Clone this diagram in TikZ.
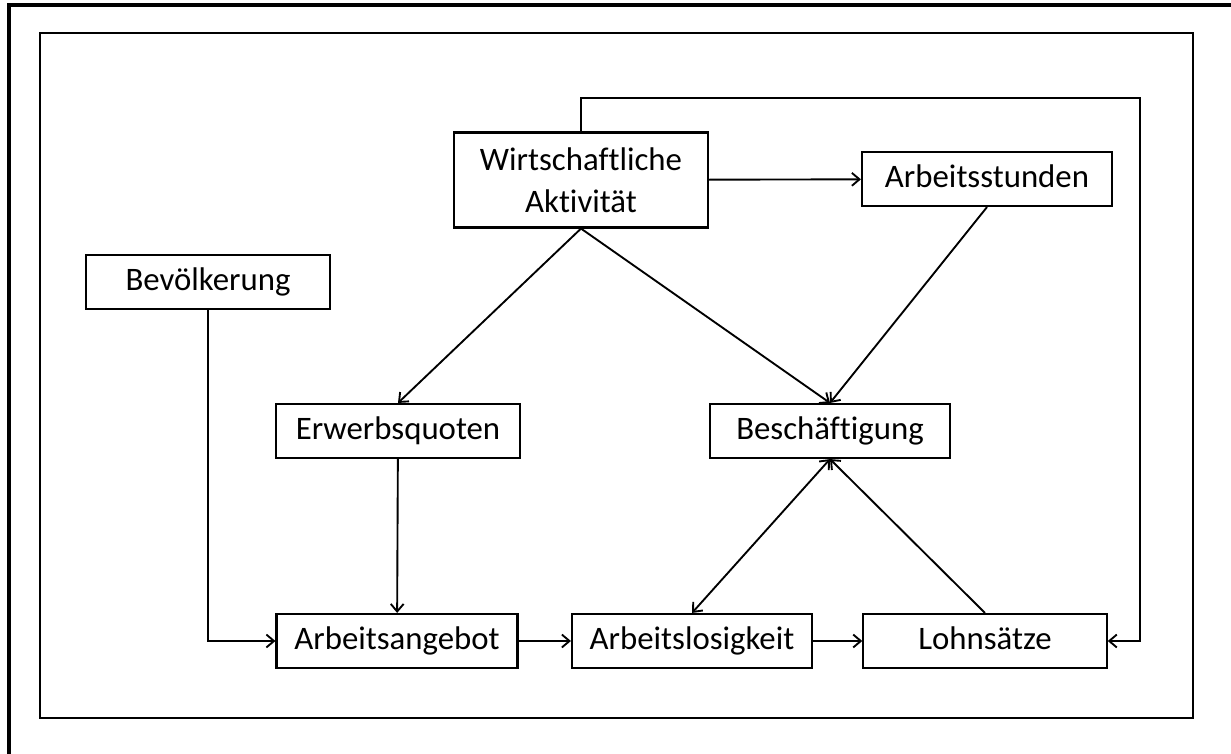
\documentclass[tikz,border=0pt]{standalone}
\usepackage{fontspec}
\setmainfont{Carlito}[Ligatures={NoCommon}]
\usepackage{tikz}
\usetikzlibrary{arrows.meta, positioning}

\begin{document}
\begin{tikzpicture}[x=0.03cm, y=-0.03cm, >={Straight Barb[length=6.5pt, width=11pt]},
    factor/.style={draw, line width=1.8pt, minimum width=7.3cm, minimum height=1.62cm,
        inner sep=0pt, text height=18pt, text depth=3pt, font=\fontsize{28}{36}\selectfont},
    link/.style={->, line width=1.6pt}]
    \useasboundingbox (0,0) rectangle (1231,753);

    % Outer and inner frames
    \draw[line width=3pt] (9,800) -- (9,5) -- (1280,5);
    \draw[line width=1.8pt] (40,33) rectangle (1193,718);

    % Factors
    \node[factor, minimum width=7.6cm, minimum height=2.85cm, align=center, text height=, text depth=] (wirt) at (581,180) {Wirtschaftliche\\Aktivität};
    \node[factor, minimum width=7.5cm] (stunden) at (987,179) {Arbeitsstunden};
    \node[factor] (bev) at (208,282) {Bevölkerung};
    \node[factor] (quoten) at (398,431) {Erwerbsquoten};
    \node[factor, minimum width=7.2cm] (besch) at (830,431) {Beschäftigung};
    \node[factor, minimum width=7.23cm] (angebot) at (397,641) {Arbeitsangebot};
    \node[factor, minimum width=7.2cm] (losig) at (692,641) {Arbeitslosigkeit};
    \node[factor] (lohn) at (985,641) {Lohnsätze};
    \coordinate (loop) at (1140,98);

    % Links
    \draw[link] (wirt) -- (stunden);
    \draw[link] (wirt.south) -- (quoten.north);
    \draw[link] (wirt.south) -- (besch.north);
    \draw[link] (stunden.south) -- (besch.north);
    \draw[link] (quoten) -- (angebot);
    \draw[link] (bev.south) |- (angebot.west);
    \draw[link] (angebot) -- (losig);
    \draw[link] (losig) -- (lohn);
    \draw[link, <->] (besch.south) -- (losig.north);
    \draw[link] (lohn.north) -- (besch.south);
    \draw[link] (wirt.north) |- (loop) |- (lohn.east);

\end{tikzpicture}
\end{document}
